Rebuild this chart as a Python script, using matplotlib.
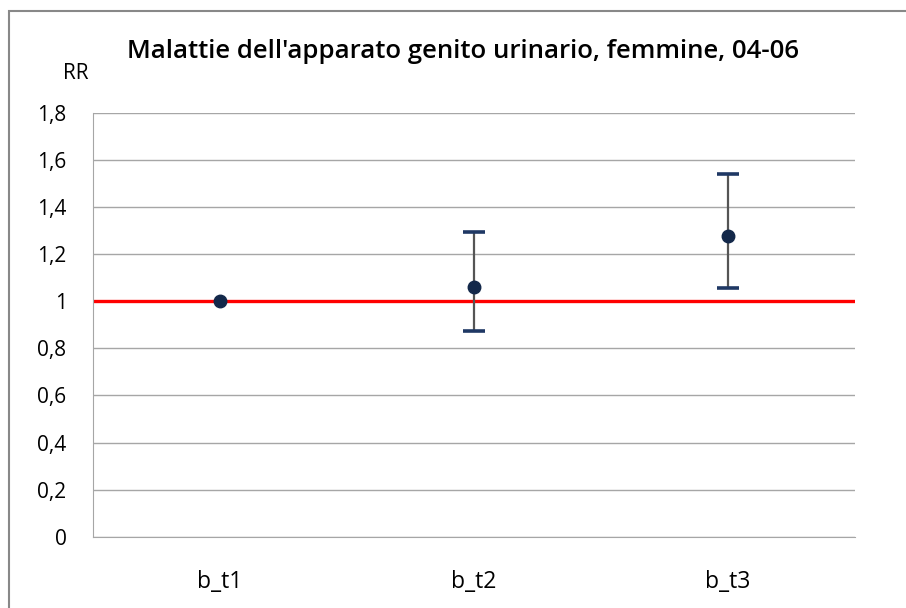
import matplotlib
matplotlib.use("Agg")
import matplotlib.pyplot as plt
from matplotlib.patches import Rectangle

categories = ["b_t1", "b_t2", "b_t3"]
rr = [1.0, 1.062, 1.278]
lower = [1.0, 0.872, 1.058]
upper = [1.0, 1.296, 1.540]
yticks = [0, 0.2, 0.4, 0.6, 0.8, 1.0, 1.2, 1.4, 1.6, 1.8]
ytick_labels = ["0", "0,2", "0,4", "0,6", "0,8", "1", "1,2", "1,4", "1,6", "1,8"]
title = "Malattie dell'apparato genito urinario, femmine, 04-06"
ref_value = 1.0

plt.rcParams['font.family'] = ['Open Sans', 'DejaVu Sans']

fig = plt.figure(figsize=(9.06, 6.08), dpi=100)
W, H = 906, 608
ax = fig.add_axes([93 / W, 1 - 536.7 / H, (855 - 93) / W, (536.7 - 113) / H])

x = list(range(len(categories)))
ax.set_xlim(-0.5, len(categories) - 0.5)
ax.set_ylim(0, 1.8)

for v in yticks:
    ax.axhline(v, color="#a6a6a6", lw=1.0, zorder=1)

ax.axhline(ref_value, color="#ff0000", lw=2.4, zorder=2)

idx = [i for i in x if upper[i] != lower[i]]
eb = ax.errorbar([x[i] for i in idx], [rr[i] for i in idx],
                 yerr=[[rr[i] - lower[i] for i in idx], [upper[i] - rr[i] for i in idx]],
                 fmt="none", ecolor="#555555", elinewidth=1.6, capsize=8, capthick=2.6, zorder=3)
for cl in eb[1]:
    cl.set_markeredgecolor("#1f3864")
    cl.set_color("#1f3864")
ax.plot(x, rr, "o", color="#13284a", ms=9, zorder=4)

ax.set_yticks(yticks)
ax.set_yticklabels(ytick_labels, fontsize=15)
ax.set_xticks(x)
ax.set_xticklabels(categories, fontsize=16.5)
ax.tick_params(axis="both", length=0, colors="#000000")
ax.tick_params(axis="y", pad=19)
ax.tick_params(axis="x", pad=24)

for s in ["top", "right"]:
    ax.spines[s].set_visible(False)
ax.spines["left"].set_color("#a6a6a6")
ax.spines["bottom"].set_color("#a6a6a6")

fig.text(463 / W, 1 - 58 / H, title, fontsize=18.5, fontweight="semibold", ha="center", va="baseline")
fig.text(76 / W, 1 - 79 / H, "RR", fontsize=15, ha="center", va="baseline")

fig.patches.append(Rectangle((9 / W, -0.05), 1.1, 1.05 - 11 / H, transform=fig.transFigure,
                             fill=False, edgecolor="#888888", lw=1.5))

fig.savefig("out.png", dpi=100)
